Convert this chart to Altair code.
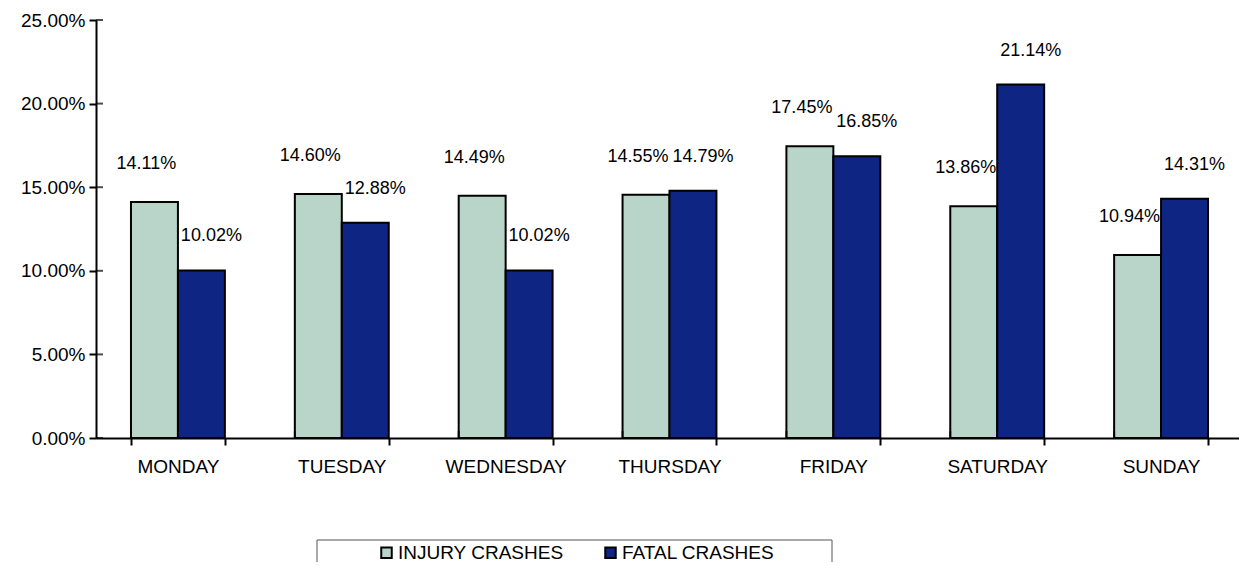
import altair as alt
import pandas as pd

days = ["MONDAY", "TUESDAY", "WEDNESDAY", "THURSDAY", "FRIDAY", "SATURDAY", "SUNDAY"]
series = ["INJURY CRASHES", "FATAL CRASHES"]
injury = [14.11, 14.60, 14.49, 14.55, 17.45, 13.86, 10.94]
fatal = [10.02, 12.88, 10.02, 14.79, 16.85, 21.14, 14.31]
colors = ["#B9D5CA", "#0F2584"]
y_ticks = [0.0, 0.05, 0.10, 0.15, 0.20, 0.25]

rows = []
for d, a, b in zip(days, injury, fatal):
    rows.append({"day": d, "series": series[0], "value": a / 100})
    rows.append({"day": d, "series": series[1], "value": b / 100})
df = pd.DataFrame(rows)

FONT = "Liberation Sans, Arial, sans-serif"
W, H = 1142, 418

x_enc = alt.X("day:N", sort=days, title=None,
              scale=alt.Scale(paddingInner=0.427, paddingOuter=0.2135, range=[0, 1147]),
              axis=alt.Axis(labelAngle=0, labelFontSize=19, labelFont=FONT, labelColor="#000",
                            tickBand="extent", tickSize=7, tickWidth=2, tickColor="#000",
                            domainColor="#000", domainWidth=2, labelPadding=12))
xo_enc = alt.XOffset("series:N", sort=series)
y_enc = alt.Y("value:Q", title=None,
              scale=alt.Scale(domain=[0, 0.25], nice=False),
              axis=alt.Axis(values=y_ticks, format=".2%", labelFontSize=19, labelFont=FONT,
                            labelColor="#000", tickSize=7, tickWidth=2, tickColor="#000",
                            domainColor="#000", domainWidth=2, grid=False, labelPadding=4))

bars = alt.Chart(df).mark_bar(stroke="#000", strokeWidth=2).encode(
    x=x_enc, xOffset=xo_enc, y=y_enc,
    color=alt.Color("series:N", sort=series,
                    scale=alt.Scale(domain=series, range=colors),
                    legend=alt.Legend(title=None, orient="none", direction="horizontal",
                                      legendX=281, legendY=523, symbolType="square",
                                      symbolSize=110, symbolStrokeColor="#000",
                                      symbolStrokeWidth=2, labelFontSize=19, labelFont=FONT,
                                      labelColor="#000", labelOffset=2, columnPadding=37,
                                      padding=0, labelLimit=300)),
)

lab_inj = alt.Chart(df).transform_filter(alt.datum.series == series[0]).mark_text(
    fontSize=18, font=FONT, color="#000", dy=-38, dx=-8).encode(
    x=alt.X("day:N", sort=days), xOffset=xo_enc, y="value:Q",
    text=alt.Text("value:Q", format=".2%"))
lab_fat = alt.Chart(df).transform_filter(alt.datum.series == series[1]).mark_text(
    fontSize=18, font=FONT, color="#000", dy=-34, dx=10).encode(
    x=alt.X("day:N", sort=days), xOffset=xo_enc, y="value:Q",
    text=alt.Text("value:Q", format=".2%"))

# inner halves of the crossing ticks
ytick_df = pd.DataFrame({"value": y_ticks})
ytick_in = alt.Chart(ytick_df).mark_tick(orient="horizontal", size=7, thickness=2,
                                         color="#000").encode(
    y="value:Q", x=alt.value(3.5))
xtick_in = alt.Chart(pd.DataFrame({"day": days})).mark_tick(
    orient="vertical", size=7, thickness=2, color="#000").encode(
    x=alt.X("day:N", sort=days, bandPosition=0), y=alt.value(H - 3.5))

frame = alt.Chart(pd.DataFrame({"k": [0]})).mark_rect(
    fill="#fff", stroke="#555", strokeWidth=1).encode(
    x=alt.value(221), x2=alt.value(736), y=alt.value(520), y2=alt.value(570))

chart = alt.layer(frame, bars, lab_inj, lab_fat, ytick_in, xtick_in).properties(
    width=W, height=H,
    background="#ffffff",
    autosize=alt.AutoSizeParams(type="none"),
    padding={"left": 88, "top": 12, "right": 1, "bottom": 124},
).configure_view(stroke=None)

chart.save("out.html", embed_options={"renderer": "svg", "actions": False})
